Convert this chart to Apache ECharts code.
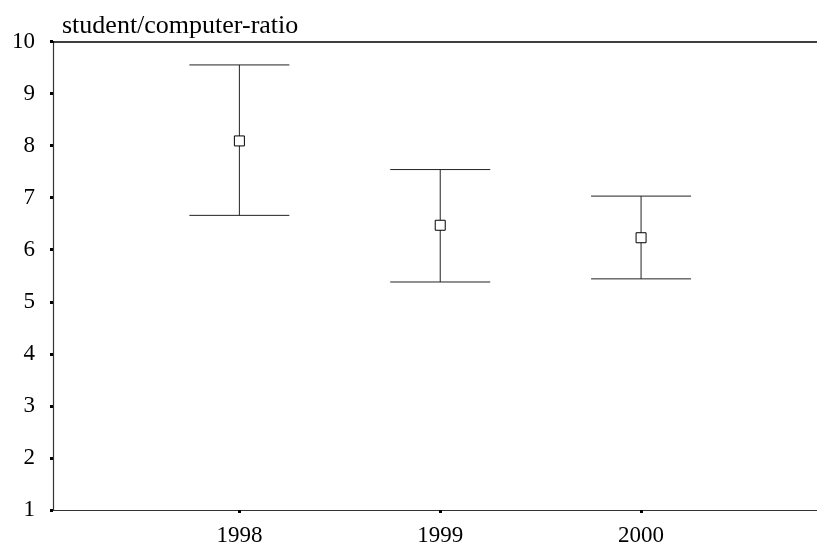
<!DOCTYPE html>
<html>
<head>
<meta charset="utf-8">
<script src="https://cdn.jsdelivr.net/npm/echarts@6/dist/echarts.min.js"></script>
<style>
  html, body { margin: 0; padding: 0; background: #fff; }
  #chart { width: 817px; height: 547px; }
</style>
</head>
<body>
<div id="chart"></div>
<script>
// Student/computer ratio by year: mean with interval bounds
const years = ['1998', '1999', '2000'];
const xPos = [1, 2, 3];
const means = [8.09, 6.47, 6.23];
const upper = [9.55, 7.54, 7.03];
const lower = [6.66, 5.38, 5.44];
const yTicks = [1, 2, 3, 4, 5, 6, 7, 8, 9, 10];

const FONT = '"Liberation Serif", "DejaVu Serif", serif';

const barData = xPos.map((x, i) => [x, lower[i], upper[i]]);
const meanData = xPos.map((x, i) => [x, means[i]]);

const chart = echarts.init(document.getElementById('chart'), null, { renderer: 'canvas' });

chart.setOption({
  backgroundColor: '#ffffff',
  animation: false,
  title: {
    text: 'student/computer-ratio',
    left: 57,
    top: 8,
    textStyle: { fontFamily: FONT, fontSize: 26, fontWeight: 'normal', color: '#000' }
  },
  grid: { left: 53, right: 0, top: 41.5, bottom: 36 },
  xAxis: [
    {
      type: 'value',
      min: 0.072,
      max: 3.876,
      position: 'bottom',
      splitLine: { show: false },
      axisLine: { show: true, onZero: false, lineStyle: { color: '#333', width: 1.2 } },
      axisTick: { show: true, customValues: xPos, length: 3, lineStyle: { color: '#000', width: 3 } },
      axisLabel: {
        customValues: xPos,
        margin: 14,
        fontFamily: FONT, fontSize: 23, color: '#000',
        formatter: v => years[Math.round(v) - 1] || ''
      }
    },
    {
      type: 'value',
      min: 0.072,
      max: 3.876,
      position: 'top',
      splitLine: { show: false },
      axisLine: { show: true, onZero: false, lineStyle: { color: '#000', width: 1.5 } },
      axisTick: { show: false },
      axisLabel: { show: false }
    }
  ],
  yAxis: {
    type: 'value',
    min: 1,
    max: 10,
    interval: 1,
    splitLine: { show: false },
    axisLine: { show: true, onZero: false, lineStyle: { color: '#333', width: 1.2 } },
    axisTick: { show: true, length: 3, lineStyle: { color: '#000', width: 3 } },
    axisLabel: {
      margin: 18,
      fontFamily: FONT, fontSize: 23, color: '#000',
      formatter: v => (yTicks.includes(v) ? String(v) : '')
    }
  },
  series: [
    {
      type: 'custom',
      xAxisIndex: 0,
      data: barData,
      renderItem: (params, api) => {
        const x = api.value(0);
        const lo = api.coord([x, api.value(1)]);
        const hi = api.coord([x, api.value(2)]);
        const half = 50;
        const style = { stroke: '#222', lineWidth: 1 };
        return {
          type: 'group',
          children: [
            { type: 'line', shape: { x1: lo[0], y1: lo[1], x2: hi[0], y2: hi[1] }, style },
            { type: 'line', shape: { x1: hi[0] - half, y1: hi[1], x2: hi[0] + half, y2: hi[1] }, style },
            { type: 'line', shape: { x1: lo[0] - half, y1: lo[1], x2: lo[0] + half, y2: lo[1] }, style }
          ]
        };
      },
      z: 2
    },
    {
      type: 'scatter',
      xAxisIndex: 0,
      data: meanData,
      symbol: 'rect',
      symbolSize: 10,
      itemStyle: { color: '#fff', borderColor: '#000', borderWidth: 1, opacity: 1 },
      z: 3
    }
  ]
});
</script>
</body>
</html>
